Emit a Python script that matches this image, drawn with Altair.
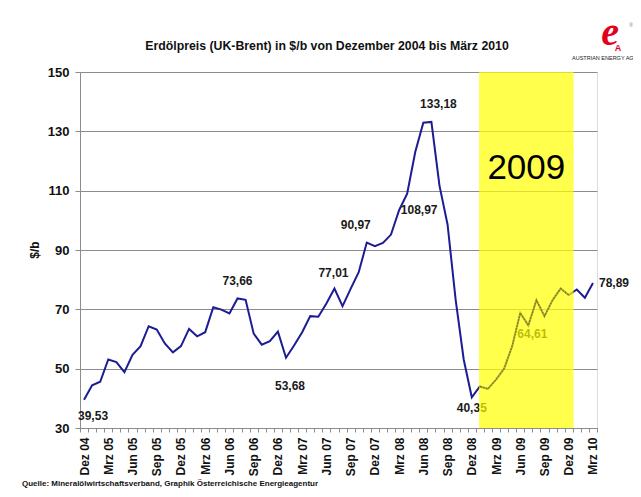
import json
import altair as alt
import pandas as pd

# ---------------- data ----------------
MONTHS = ["Jan", "Feb", "Mrz", "Apr", "Mai", "Jun", "Jul", "Aug", "Sep", "Okt", "Nov", "Dez"]
MONTH_LABELS = (["Dez 04"]
                + [f"{m} {y:02d}" for y in range(5, 10) for m in MONTHS]
                + ["Jan 10", "Feb 10", "Mrz 10"])

PRICES = [39.53, 44.4, 45.6, 53.1, 52.2, 48.8, 54.7, 57.6, 64.3, 63.2,
          58.5, 55.5, 57.6, 63.4, 60.9, 62.3, 70.7, 69.9, 68.6, 73.66,
          73.2, 61.8, 58.1, 59.3, 62.5, 53.68, 57.8, 62.3, 67.7, 67.5,
          72.0, 77.01, 71.1, 76.9, 82.5, 92.5, 91.3, 92.4, 95.2, 103.4,
          108.97, 123.0, 132.9, 133.18, 111.7, 98.6, 73.3, 53.1, 40.35, 44.0,
          43.2, 46.3, 50.0, 57.6, 68.8, 64.61, 73.1, 67.7, 73.1, 77.0,
          74.8, 76.7, 73.9, 78.89]

LABEL_IDX = [0, 19, 25, 31, 35, 40, 43, 48, 55, 63]
LABEL_TEXT = ["39,53", "73,66", "53,68", "77,01", "90,97", "108,97", "133,18", "40,35", "64,61", "78,89"]

Y_TICKS = [30, 50, 70, 90, 110, 130, 150]
BOX_START, BOX_END = 48.9, 60.6      # highlighted year 2009 (month index)
BOX_TEXT = "2009"
BOX_TEXT_Y = 117.7

TITLE = "Erdölpreis (UK-Brent) in $/b von Dezember 2004 bis März 2010"
SOURCE = "Quelle: Mineralölwirtschaftsverband, Graphik Österreichische Energieagentur"

# ---------------- styles ----------------
FONT = "Liberation Sans"
LINE_COLOR = "#1c1c94"
GRID = "#8c8c8c"
# label pixel offsets (dx, dy, align)
LABEL_STYLE = [(9, 16.5, "center"), (0, -17, "center"), (4, 28, "center"), (-1, -16, "center"),
               (-11, -18, "center"), (12, 16.5, "center"), (7, -18, "center"), (0, 10.5, "center"),
               (4, 9, "center"), (6, 0, "left")]

n = len(PRICES)
df = pd.DataFrame({"idx": list(range(n)), "price": PRICES, "month": MONTH_LABELS})

tick_vals = [i - 0.5 for i in range(n + 1)]
tick_labels = [MONTH_LABELS[i] if (i < n and i % 3 == 0) else "" for i in range(n + 1)]
label_expr = json.dumps(tick_labels) + "[round(datum.value + 0.5)]"

x_scale = alt.Scale(domain=[-0.5, n - 0.5], nice=False, zero=False)
y_scale = alt.Scale(domain=[30, 150], nice=False, zero=False)

W, H = 517, 356
band = W / n

x_axis = alt.Axis(values=tick_vals, labelExpr=label_expr, labelAngle=-90,
                  labelOffset=band / 2, labelOverlap=False, labelFlush=False,
                  labelBound=False, grid=False, ticks=True, tickSize=4, tickColor=GRID,
                  domainColor=GRID, labelFont=FONT, labelFontSize=12,
                  labelFontWeight="bold", labelColor="#111", labelPadding=5, title=None)
y_axis = alt.Axis(values=Y_TICKS, grid=True, gridColor=GRID, gridWidth=1,
                  tickSize=5, tickColor=GRID, domainColor=GRID,
                  labelFont=FONT, labelFontSize=13, labelFontWeight="bold",
                  labelColor="#111", labelPadding=6, title=None)


def X(field):
    return alt.X(field, scale=x_scale, axis=x_axis, title=None)


def Y(field):
    return alt.Y(field, scale=y_scale, axis=y_axis, title=None)


line = alt.Chart(df).mark_line(color=LINE_COLOR, strokeWidth=2).encode(
    x=X("idx:Q"), y=Y("price:Q"))

layers = [line]
for (i, txt), (dx, dy, al) in zip(zip(LABEL_IDX, LABEL_TEXT), LABEL_STYLE):
    ldf = pd.DataFrame({"idx": [i], "price": [PRICES[i]], "t": [txt]})
    layers.append(
        alt.Chart(ldf).mark_text(font=FONT, fontSize=12, fontWeight="bold", color="#1a1a1a",
                                 dx=dx, dy=dy, align=al, baseline="middle").encode(
            x=X("idx:Q"), y=Y("price:Q"), text="t:N")
    )

box_df = pd.DataFrame({"start": [BOX_START], "end": [BOX_END], "top": [150], "bottom": [30]})
box = alt.Chart(box_df).mark_rect(color="#ffff00", opacity=0.7).encode(
    x=X("start:Q"), x2="end:Q", y=Y("top:Q"), y2="bottom:Q")
layers.append(box)

# the price line seen through the (dithered) yellow box
inside = alt.Chart(df).transform_filter(
    (alt.datum.idx >= BOX_START) & (alt.datum.idx <= BOX_END)
).mark_line(color="#6e6e28", strokeWidth=1.4, strokeDash=[2, 1], opacity=0.8).encode(
    x=X("idx:Q"), y=Y("price:Q"))
layers.append(inside)

year_df = pd.DataFrame({"xc": [(BOX_START + BOX_END) / 2], "yc": [BOX_TEXT_Y], "t": [BOX_TEXT]})
year_txt = alt.Chart(year_df).mark_text(
    font=FONT, fontSize=35, color="black", align="center", baseline="middle").encode(
    x=X("xc:Q"), y=Y("yc:Q"), text="t:N")
layers.append(year_txt)


def note(txt, x, y, **kw):
    return alt.Chart(alt.Data(values=[{"t": txt}])).mark_text(**kw).encode(
        x=alt.value(x), y=alt.value(y), text="t:N")


layers += [
    note(TITLE, 247, -26, font=FONT, fontSize=12.3, fontWeight="bold", color="#111",
         align="center", baseline="middle"),
    note("$/b", -45, 178, font=FONT, fontSize=12, fontWeight="bold", color="#111",
         angle=270, align="center", baseline="middle"),
    note(SOURCE, -58, 412, font=FONT, fontSize=8, fontWeight="bold", color="#111",
         align="left", baseline="middle"),
    note("e", 530, -39, font="Liberation Serif", fontSize=40, fontStyle="italic",
         fontWeight="bold", color="#e3001b", align="center", baseline="middle"),
    note("A", 538, -24, font=FONT, fontSize=9, fontWeight="bold", color="#e3001b",
         align="center", baseline="middle"),
    note("®", 551, -47, font=FONT, fontSize=5, color="#777", align="center", baseline="middle"),
    note("AUSTRIAN ENERGY AGENCY", 492, -14, font=FONT, fontSize=5.5, color="#222",
         align="left", baseline="middle"),
]

chart = alt.layer(*layers).properties(
    width=W, height=H,
    padding={"left": 72, "top": 64, "right": 36, "bottom": 60},
    autosize=alt.AutoSizeParams(type="none"),
).configure_view(stroke="#b4b4b4").configure(background="white")

chart.save("out.html", embed_options={"renderer": "svg", "actions": False})
